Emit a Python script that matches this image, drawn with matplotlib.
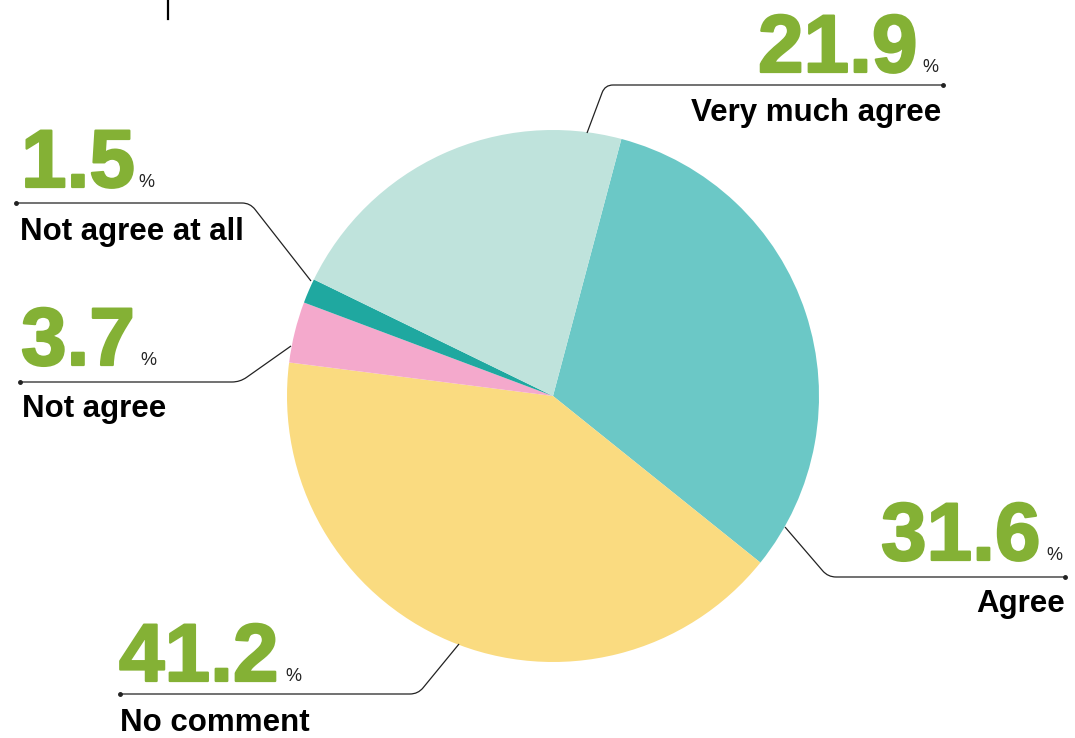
import math
import matplotlib.pyplot as plt
import matplotlib.patheffects as pe
from matplotlib.path import Path
from matplotlib.patches import PathPatch

plt.rcParams['font.family'] = ['Liberation Sans', 'DejaVu Sans']

# dati
categorie = ["Agree", "No comment", "Not agree", "Not agree at all", "Very much agree"]
valori = [31.6, 41.2, 3.7, 1.5, 21.9]
colori = ["#6BC8C6", "#FADB80", "#F4A9CC", "#1FA8A0", "#BFE3DC"]
verde = "#84B135"

W, H = 1075, 738

fig = plt.figure(figsize=(W / 100, H / 100), dpi=100)
ax = fig.add_axes([0, 0, 1, 1])


def Y(y):
    # coordinate immagine -> coordinate dati
    return H - y


ax.pie(valori, colors=colori, startangle=75.1, counterclock=False,
       center=(553, Y(396)), radius=266, frame=True,
       wedgeprops=dict(linewidth=0))
ax.set_xlim(0, W)
ax.set_ylim(0, H)
ax.set_aspect('equal')
ax.axis('off')


def linea_guida(p0, angolo, p_fine):
    # p0 sul bordo della torta, angolo = gomito, p_fine = punto finale con pallino
    (x0, y0), (xc, yc), (x1, y1) = p0, angolo, p_fine
    r = 8.0
    d0 = math.hypot(x0 - xc, y0 - yc)
    d1 = math.hypot(x1 - xc, y1 - yc)
    a = (xc + (x0 - xc) * r / d0, yc + (y0 - yc) * r / d0)
    b = (xc + (x1 - xc) * r / d1, yc + (y1 - yc) * r / d1)
    verts = [(x0, Y(y0)), (a[0], Y(a[1])), (xc, Y(yc)), (b[0], Y(b[1])), (x1, Y(y1))]
    codes = [Path.MOVETO, Path.LINETO, Path.CURVE3, Path.CURVE3, Path.LINETO]
    ax.add_patch(PathPatch(Path(verts, codes), fill=False, edgecolor='#222222', lw=0.9))
    ax.plot([x1], [Y(y1)], 'o', color='#222222', markersize=2.5)


# etichette: (numero, x numero, baseline, x %, etichetta, x etichetta, baseline etichetta, allineamento)
etichette = [
    ("21.9", 758, 72, 922, "Very much agree", 941, 121, 'right'),
    ("1.5", 21, 187, 138, "Not agree at all", 20, 240, 'left'),
    ("3.7", 21, 365, 140, "Not agree", 22, 417, 'left'),
    ("31.6", 881, 560, 1046, "Agree", 1065, 612, 'right'),
    ("41.2", 119, 681, 285, "No comment", 120, 731, 'left'),
]

spessore = [pe.withStroke(linewidth=1.6, foreground=verde)]

for num, xn, bn, xp, lab, xl, bl, ha in etichette:
    ax.text(xn, Y(bn), num, fontsize=59, fontweight='bold', color=verde,
            ha='left', va='baseline', path_effects=spessore)
    ax.text(xp, Y(bn), "%", fontsize=13, color='#222222', ha='left', va='baseline')
    ax.text(xl, Y(bl), lab, fontsize=22.5, fontweight='bold', color='black',
            ha=ha, va='baseline')

linea_guida((587, 133), (605, 85), (943, 85))
linea_guida((311, 281), (250, 203), (16, 203))
linea_guida((291, 346), (240, 382), (20, 382))
linea_guida((785, 527), (828, 577), (1065, 577))
linea_guida((459, 644), (418, 694), (120, 694))

# segno verticale in alto
ax.plot([168, 168], [Y(0), Y(19)], color='black', lw=1.6)

fig.savefig("out.png", dpi=100)
